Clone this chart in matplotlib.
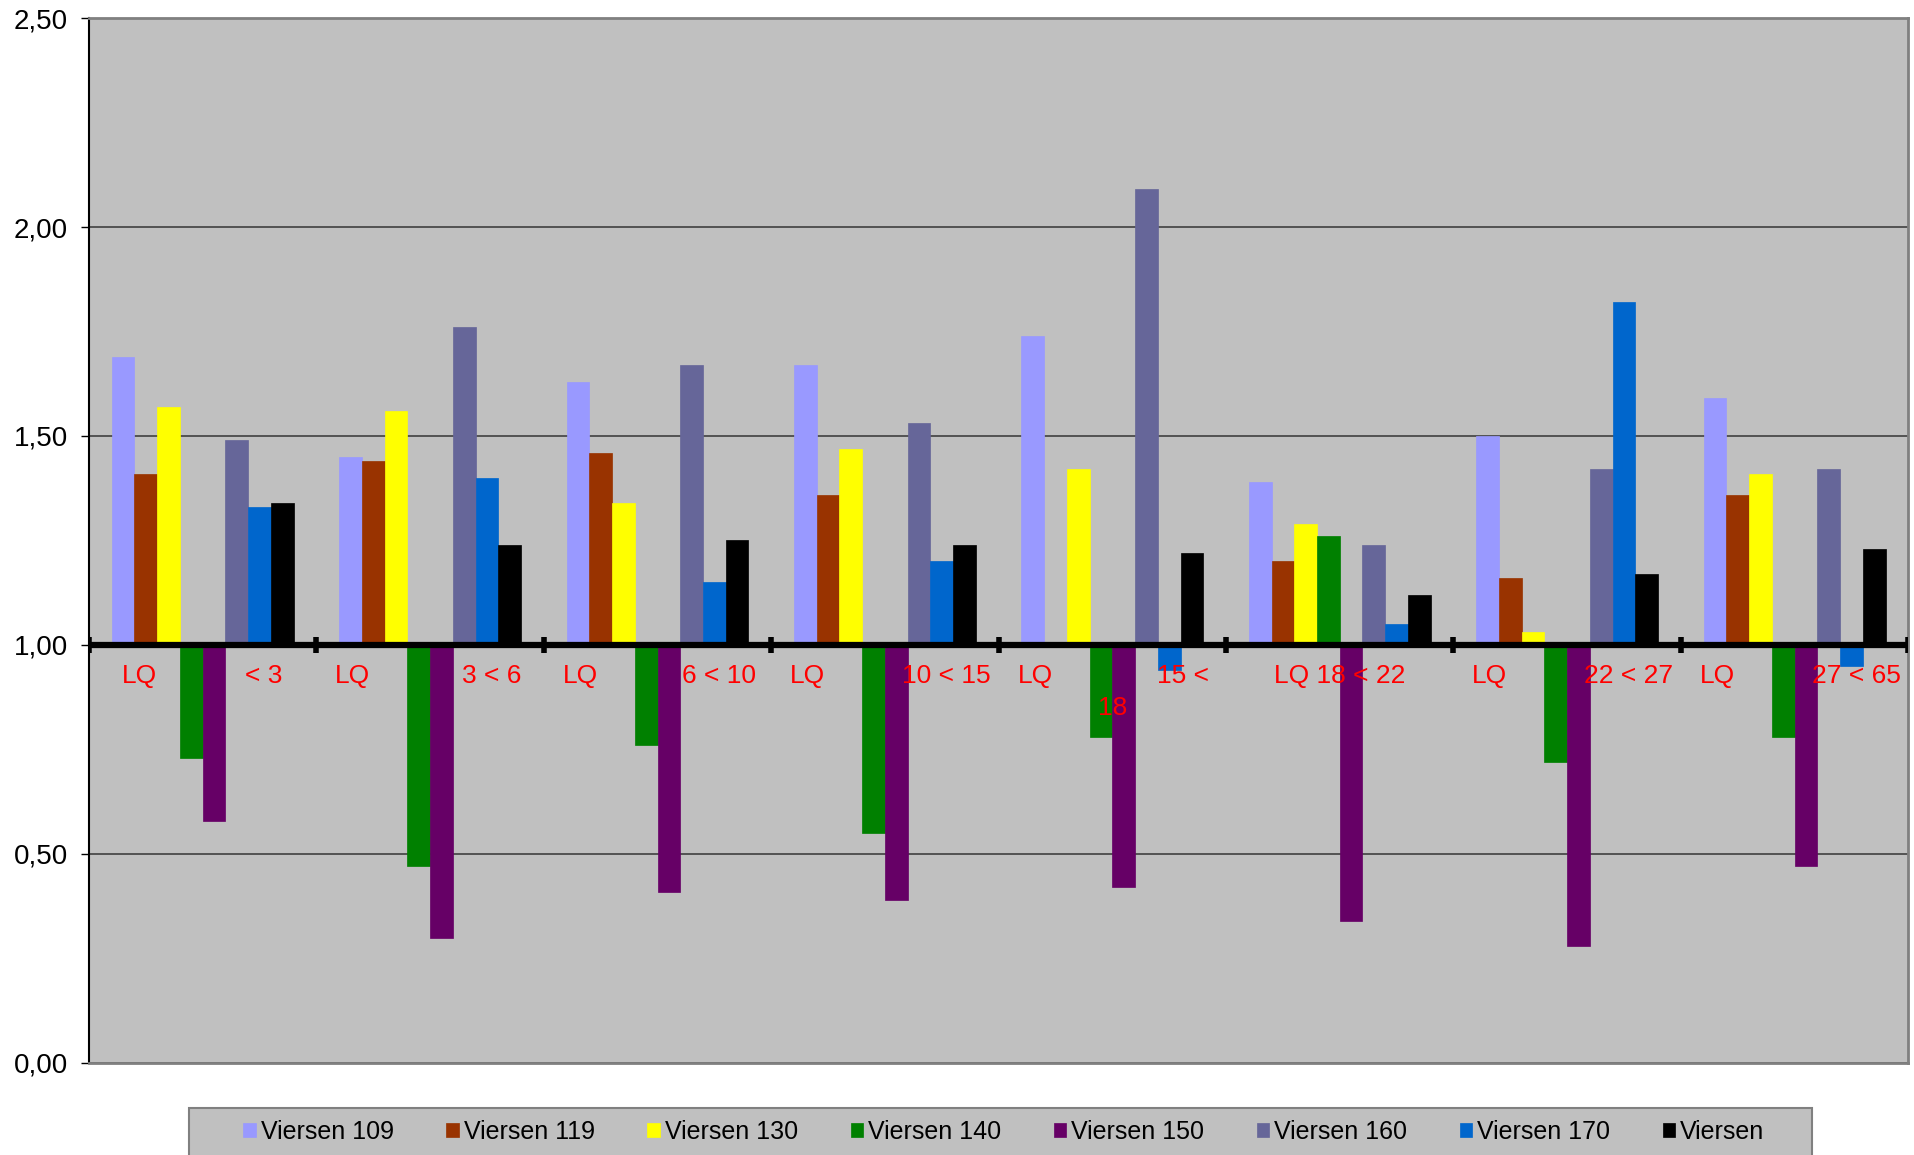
import numpy as np
import matplotlib
matplotlib.use("Agg")
import matplotlib.pyplot as plt
from matplotlib.patches import Rectangle
from matplotlib.ticker import FuncFormatter

plt.rcParams['font.family'] = ['Liberation Sans', 'DejaVu Sans']

# Standortquotienten nach Altersgruppen
groups = ["< 3", "3 < 6", "6 < 10", "10 < 15", "15 < 18", "18 < 22", "22 < 27", "27 < 65"]
series = ["Viersen 109", "Viersen 119", "Viersen 130", "Viersen 140",
          "Viersen 150", "Viersen 160", "Viersen 170", "Viersen"]
colors = ["#9999FF", "#993300", "#FFFF00", "#008000",
          "#660066", "#666699", "#0066CC", "#000000"]

v109 = [1.69, 1.45, 1.63, 1.67, 1.74, 1.39, 1.50, 1.59]
v119 = [1.41, 1.44, 1.46, 1.36, 1.00, 1.20, 1.16, 1.36]
v130 = [1.57, 1.56, 1.34, 1.47, 1.42, 1.29, 1.03, 1.41]
v140 = [0.73, 0.47, 0.76, 0.55, 0.78, 1.26, 0.72, 0.78]
v150 = [0.58, 0.30, 0.41, 0.39, 0.42, 0.34, 0.28, 0.47]
v160 = [1.49, 1.76, 1.67, 1.53, 2.09, 1.24, 1.42, 1.42]
v170 = [1.33, 1.40, 1.15, 1.20, 0.94, 1.05, 1.82, 0.95]
vviersen = [1.34, 1.24, 1.25, 1.24, 1.22, 1.12, 1.17, 1.23]
values = [v109, v119, v130, v140, v150, v160, v170, vviersen]

base = 1.0
grey = "#C0C0C0"

fig = plt.figure(figsize=(19.14, 11.55), dpi=100)
ax = fig.add_axes([0.0465, 0.0797, 0.9505, 0.9047])
ax.set_facecolor(grey)

x = np.arange(len(groups))
w = 0.1
for i, (name, vals, c) in enumerate(zip(series, values, colors)):
    vals = np.array(vals)
    ax.bar(x - 0.4 + w * (i + 0.5), vals - base, bottom=base, width=w,
           color=c, edgecolor=c, linewidth=0.5, label=name, zorder=3)

ax.set_xlim(-0.5, len(groups) - 0.5)
ax.set_ylim(0, 2.5)
ax.set_yticks(np.arange(0, 2.51, 0.5))
ax.yaxis.set_major_formatter(FuncFormatter(lambda v, p: f"{v:.2f}".replace(".", ",")))
ax.tick_params(axis='y', labelsize=20, length=6, direction='out', width=1, pad=9)
ax.set_xticks([])
ax.yaxis.grid(True, color="#404040", linewidth=1.2, zorder=1)
ax.set_axisbelow(True)

for s in ["top", "right", "bottom"]:
    ax.spines[s].set_color("#808080")
    ax.spines[s].set_linewidth(2)
ax.spines["left"].set_color("black")
ax.spines["left"].set_linewidth(1.5)

# Rubrikenachse bei 1,0
ax.axhline(base, color="black", linewidth=4.5, zorder=4)
ax.vlines(np.arange(len(groups) + 1) - 0.5, base - 0.02, base + 0.02,
          color="black", linewidth=4, zorder=4)

# rote Rubrikenbeschriftung
lab = dict(color="red", fontsize=19, ha="center", va="center", zorder=5)
for i, g in enumerate(groups):
    lq_off = -0.28 if i == 0 else -0.34
    if g == "18 < 22":
        ax.text(i, 0.925, "LQ " + g, **lab)
    elif g == "15 < 18":
        ax.text(i + lq_off, 0.925, "LQ", **lab)
        ax.text(i + 0.31, 0.925, "15 <", **lab)
        ax.text(i, 0.85, "18", **lab)
    else:
        ax.text(i + lq_off, 0.925, "LQ", **lab)
        ax.text(i + 0.27, 0.925, g, **lab)

# Legendenrahmen
fig.patches.append(Rectangle((189 / 1914, -0.01), (1812 - 189) / 1914, 0.0503,
                             transform=fig.transFigure, facecolor=grey,
                             edgecolor="#808080", linewidth=1.5, zorder=0))
fig.legend(loc="center", bbox_to_anchor=(0.5245, 0.0203), ncol=8,
           fontsize=18, frameon=False, handlelength=0.5, handleheight=0.5,
           handletextpad=0.2, columnspacing=2.1, borderaxespad=0)

fig.savefig("out.png", dpi=100)
